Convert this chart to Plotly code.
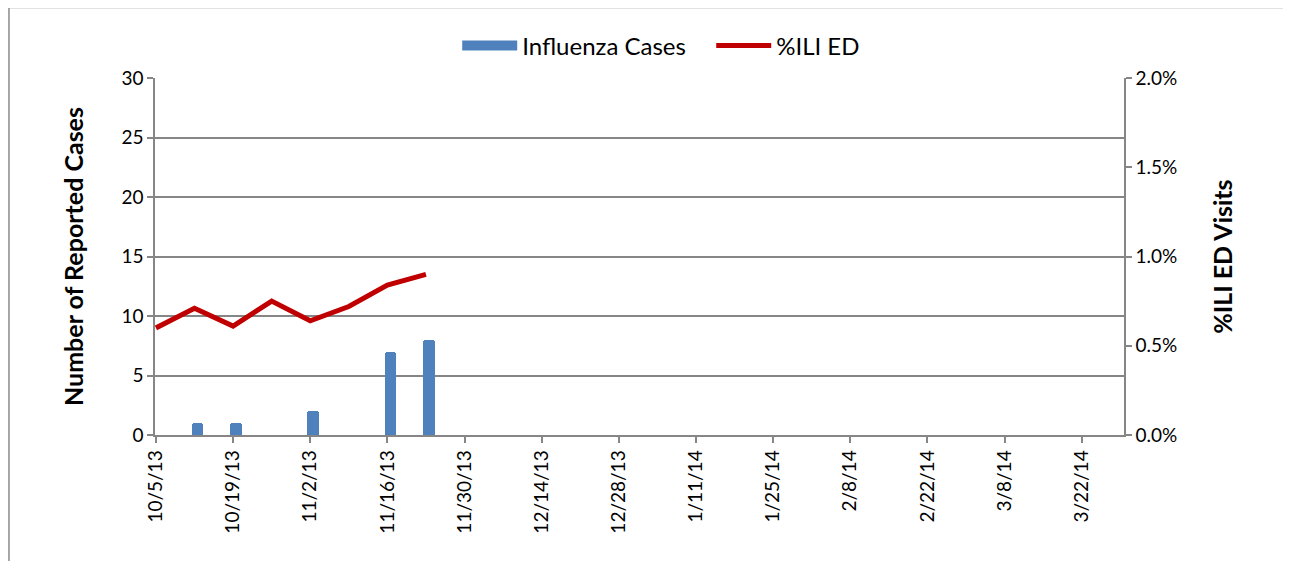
import plotly.graph_objects as go
import pandas as pd

case_dates = ["2013-10-05", "2013-10-12", "2013-10-19", "2013-10-26",
              "2013-11-02", "2013-11-09", "2013-11-16", "2013-11-23"]
influenza_cases = [0, 1, 1, 0, 2, 0, 7, 8]
ili_pct = [0.0060, 0.0071, 0.0061, 0.0075, 0.0064, 0.0072, 0.0084, 0.0090]
tick_dates = pd.date_range("2013-10-05", "2014-03-22", freq="14D")
tick_labels = [f"{d.month}/{d.day}/{d.strftime('%y')}" for d in tick_dates]

FONT = "Lato"
GRID = "#868686"
BLUE = "#4F81BD"
RED = "#C00000"
DAY = 86400000

fig = go.Figure()
fig.add_trace(go.Bar(
    x=case_dates, y=influenza_cases, name="Influenza Cases",
    marker=dict(color=BLUE, line=dict(width=0), cornerradius=3),
    width=2.1 * DAY, offset=-0.5 * DAY, yaxis="y", showlegend=False,
))
# legend proxy giving the wide rectangular key used in the original
fig.add_trace(go.Scatter(
    x=[None], y=[None], name="Influenza Cases", mode="lines",
    line=dict(color=BLUE, width=18), yaxis="y",
))
fig.add_trace(go.Scatter(
    x=case_dates, y=ili_pct, name="%ILI ED", mode="lines",
    line=dict(color=RED, width=5), yaxis="y2",
))

fig.update_layout(
    width=1291, height=561,
    margin=dict(l=147, r=175, t=70, b=134, autoexpand=False),
    paper_bgcolor="white", plot_bgcolor="white",
    font=dict(family=FONT, size=19, color="#000000"),
    showlegend=True,
    legend=dict(orientation="h", x=0.574, xanchor="center", y=1.09, yanchor="middle",
                font=dict(size=24), itemwidth=55, traceorder="normal",
                entrywidth=184, entrywidthmode="pixels",
                bgcolor="rgba(0,0,0,0)"),
    bargap=0,
    xaxis=dict(
        type="date",
        range=["2013-10-04 20:00", "2014-03-29 16:00"],
        tickmode="array", tickvals=list(tick_dates), ticktext=tick_labels,
        tickangle=-90, ticks="outside", ticklen=6, tickcolor=GRID, tickwidth=1.5,
        showline=True, linecolor=GRID, linewidth=1.5, showgrid=False,
        tickfont=dict(size=19), zeroline=False,
    ),
    yaxis=dict(
        range=[0, 30], dtick=5, showgrid=True, gridcolor=GRID, gridwidth=1.5,
        showline=True, linecolor=GRID, linewidth=1.5, ticks="outside", ticklen=6,
        tickcolor=GRID, tickwidth=1.5, zeroline=False,
        title=dict(text="<b>Number of Reported Cases</b>", font=dict(size=25), standoff=31),
        tickfont=dict(size=19),
    ),
    yaxis2=dict(
        range=[0, 0.02], dtick=0.005, tickformat=".1%", overlaying="y", side="right",
        showgrid=False, showline=True, linecolor=GRID, linewidth=1.5, ticks="outside",
        ticklen=6, tickcolor=GRID, tickwidth=1.5, zeroline=False,
        title=dict(text="<b>%ILI ED Visits</b>", font=dict(size=25), standoff=38),
        tickfont=dict(size=19),
    ),
    shapes=[dict(type="rect", xref="paper", yref="paper",
                 x0=-0.1507, x1=1.1692, y0=-0.40, y1=1.1975,
                 line=dict(color="#8c8c8c", width=1.5), fillcolor="rgba(0,0,0,0)",
                 layer="below")],
)

fig.write_html("out.html")
